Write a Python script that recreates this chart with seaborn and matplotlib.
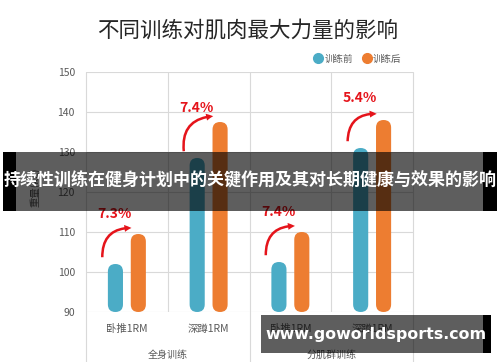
import pandas as pd
import matplotlib
matplotlib.use('Agg')
import matplotlib.pyplot as plt
import matplotlib.transforms as mtransforms
from matplotlib.patches import FancyBboxPatch, FancyArrowPatch, Rectangle
from matplotlib.lines import Line2D
import seaborn as sns

# chart data
groups = ['全身训练', '全身训练', '分肌群训练', '分肌群训练']
exercises = ['卧推1RM', '深蹲1RM', '卧推1RM', '深蹲1RM']
before = [102, 128.5, 102.5, 131]
after = [109.5, 137.5, 110, 138]
gains = ['7.3%', '7.4%', '7.4%', '5.4%']
series = ['训练前', '训练后']
colors = ['#4BACC6', '#ED7D31']
title = '不同训练对肌肉最大力量的影响'
banner = '持续性训练在健身计划中的关键作用及其对长期健康与效果的影响'
site = 'www.goworldsports.com'

sns.set_style('white')
plt.rcParams['font.family'] = ['Noto Sans CJK SC', 'DejaVu Sans']

keys = [g + '/' + e for g, e in zip(groups, exercises)]
df = pd.DataFrame({
    'key': keys * 2,
    'series': [series[0]] * 4 + [series[1]] * 4,
    'value': before + after,
})

W, H = 500, 362
fig = plt.figure(figsize=(W / 100, H / 100), dpi=100)
ax = fig.add_axes([86 / W, 50 / H, 327 / W, 240 / H])

sns.barplot(data=df, x='key', y='value', hue='series', palette=colors,
            width=0.56, gap=0.34, ax=ax, legend=False, saturation=1)
ax.set_xlim(-0.5, 3.5)
ax.set_ylim(90, 150)

# turn the bars into rounded pills
p0, p1 = ax.transData.transform([[0, 90], [1, 100]])
aspect = (p1[0] - p0[0]) / ((p1[1] - p0[1]) / 10)
for p in list(ax.patches):
    x, w, h = p.get_x(), p.get_width(), p.get_height()
    fc = p.get_facecolor()
    p.set_visible(False)
    ax.add_patch(FancyBboxPatch((x, 90), w, h - 90,
                                boxstyle=f'round,pad=0,rounding_size={w / 2}',
                                mutation_aspect=aspect, fc=fc, ec='none', zorder=3))

# grid
grid_c = '#d9d9d9'
ax.set_axisbelow(True)
ax.set_yticks(range(90, 151, 10))
ax.yaxis.grid(True, color=grid_c, lw=0.8)
for x in [0.5, 2.5]:
    ax.axvline(x, color=grid_c, lw=0.8, zorder=1)
for x in [-0.5, 1.5, 3.5]:
    ax.axvline(x, ymin=-0.21, ymax=1, color=grid_c, lw=0.8, clip_on=False, zorder=1)
for s in ax.spines.values():
    s.set_visible(False)

txt_c = '#595959'
ax.set_xticks(range(4))
ax.set_xticklabels(exercises)
ax.tick_params(axis='x', length=0, pad=8.5, labelsize=7.5, labelcolor=txt_c)
ax.tick_params(axis='y', length=0, pad=8, labelsize=7.5, labelcolor=txt_c)
ax.set_xlabel('')
ax.set_ylabel('重量(kg)', fontsize=7.5, color=txt_c)
ax.yaxis.set_label_coords(-0.14, 0.52)

blend = mtransforms.blended_transform_factory(ax.transData, ax.transAxes)
for i, g in enumerate(groups[::2]):
    ax.text(i * 2 + 0.5, -0.18, g, transform=blend, ha='center', va='center',
            fontsize=7.2, color=txt_c)

# growth annotations
red = '#E5141B'
for i in range(4):
    ax.text(i - 0.15, before[i] + 12.5, gains[i], color=red, fontweight='bold',
            fontsize=10, ha='center', va='center', zorder=5)
    ax.add_patch(FancyArrowPatch((i - 0.3, before[i] + 1), (i + 0.09, after[i] + 1.5),
                                 connectionstyle='arc3,rad=-0.55',
                                 arrowstyle='simple,head_width=5,head_length=5,tail_width=1.8',
                                 color=red, lw=0, zorder=5))

fig.text(248 / W, 1 - 32 / H, title, ha='center', va='center', fontsize=15.5, color='#262626')

handles = [Line2D([], [], marker='o', ls='', markersize=7, color=c) for c in colors]
fig.legend(handles, series, loc='center', bbox_to_anchor=(358 / W, 1 - 59 / H), ncol=2,
           frameon=False, fontsize=6.8, handletextpad=0.3, columnspacing=1.0,
           handlelength=0.8, labelcolor=txt_c)

# overlay banner
def box(x0, x1, y0, y1, **kw):
    fig.add_artist(Rectangle((x0 / W, 1 - y1 / H), (x1 - x0) / W, (y1 - y0) / H,
                             transform=fig.transFigure, ec='none', zorder=10, **kw))

box(3, 16, 152, 211, fc='black')
box(16, 483, 152, 211, fc='black', alpha=0.63)
box(483, 497, 152, 211, fc='black')
fig.text(250 / W, 1 - 181 / H, banner, color='white', fontsize=12.25, fontweight='bold',
         ha='center', va='center', zorder=11)

box(261, 483, 315, 353, fc='black', alpha=0.63)
box(483, 491, 315, 353, fc='black')
fig.text(375.5 / W, 1 - 334 / H, site, color='white', fontsize=11.4, fontweight='bold',
         ha='center', va='center', zorder=11, family='DejaVu Sans')

fig.savefig('out.png', dpi=100)
